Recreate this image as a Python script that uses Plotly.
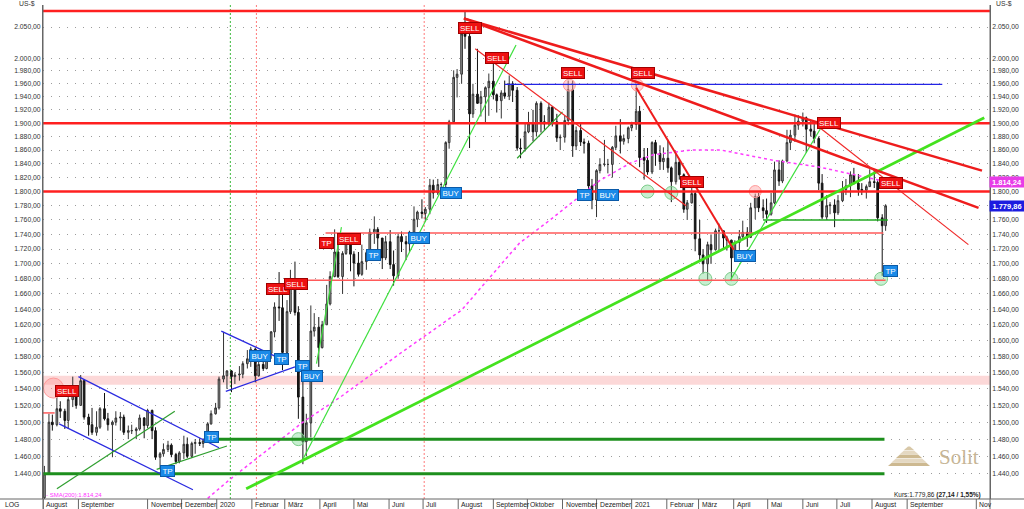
import numpy as np
import pandas as pd
import plotly.graph_objects as go

# ---------------- data ----------------
first_open = 1413
closes = [1440,1500,1497,1516,1513,1502,1527,1541,1520,1550,
          1506,1497,1488,1494,1516,1504,1497,1500,1505,1506,
          1488,1490,1490,1492,1505,1496,1514,1490,1459,1463,
          1468,1473,1462,1454,1464,1474,1460,1475,1476,1475,
          1478,1498,1510,1517,1552,1556,1562,1555,1557,1558,
          1571,1577,1589,1556,1570,1565,1584,1611,1643,1642,
          1585,1637,1673,1636,1530,1477,1499,1612,1617,1591,
          1620,1647,1683,1716,1683,1714,1729,1713,1701,1686,
          1703,1715,1743,1747,1735,1708,1730,1699,1684,1737,
          1730,1727,1743,1761,1771,1769,1775,1809,1798,1810,
          1810,1871,1902,1970,1975,2039,2035,1914,1944,1930,
          1940,1954,1964,1943,1934,1946,1941,1960,1950,1863,
          1862,1887,1899,1887,1930,1902,1899,1924,1902,1878,
          1879,1904,1951,1866,1889,1872,1870,1808,1788,1830,
          1839,1839,1839,1864,1881,1873,1877,1893,1898,1918,
          1849,1845,1828,1871,1855,1843,1848,1834,1814,1842,
          1824,1775,1784,1797,1734,1712,1700,1726,1719,1745,
          1745,1735,1732,1708,1729,1737,1743,1736,1777,1793,
          1777,1773,1768,1784,1831,1815,1844,1871,1882,1897,
          1903,1908,1891,1888,1877,1812,1764,1780,1781,1770,
          1787,1803,1808,1824,1812,1803,1802,1807,1814,1813,
          1763,1752,1779.86]
highs = [1449,1510,1509,1535,1525,1516,1530,1555,1541,1557,
         1552,1510,1517,1513,1518,1535,1511,1502,1513,1512,
         1509,1496,1497,1494,1509,1506,1516,1515,1494,1465,
         1475,1478,1475,1464,1466,1484,1482,1477,1480,1481,
         1481,1500,1514,1523,1555,1611,1563,1563,1560,1568,
         1574,1588,1592,1591,1574,1576,1585,1612,1649,1689,
         1660,1652,1692,1703,1644,1575,1510,1645,1635,1630,
         1625,1672,1690,1747,1731,1717,1739,1733,1717,1716,
         1726,1718,1748,1765,1750,1735,1738,1746,1718,1741,
         1744,1738,1745,1779,1773,1789,1778,1818,1817,1818,
         1813,1873,1905,1981,1983,2055,2075,2049,1960,2015,
         1949,1956,1976,1992,1945,1950,1965,1973,1964,1955,
         1877,1901,1917,1920,1933,1933,1912,1931,1926,1914,
         1883,1911,1965,1965,1895,1900,1877,1874,1818,1832,
         1848,1875,1847,1866,1896,1906,1883,1895,1902,1959,
         1926,1863,1863,1873,1875,1867,1864,1875,1836,1855,
         1846,1826,1788,1816,1800,1760,1720,1730,1740,1748,
         1755,1745,1738,1733,1732,1746,1759,1750,1784,1797,
         1798,1789,1790,1798,1843,1845,1846,1890,1890,1913,
         1912,1916,1910,1903,1903,1880,1825,1795,1785,1789,
         1795,1815,1818,1829,1834,1825,1812,1810,1832,1832,
         1816,1768,1782]
lows = [1400,1440,1490,1495,1505,1492,1492,1518,1516,1520,
        1503,1484,1485,1484,1492,1502,1490,1459,1496,1490,
        1485,1480,1486,1480,1490,1481,1493,1480,1456,1445,
        1460,1465,1459,1451,1452,1457,1458,1458,1463,1472,
        1470,1477,1497,1509,1515,1548,1540,1536,1546,1550,
        1553,1565,1567,1548,1555,1562,1564,1577,1604,1625,
        1563,1575,1634,1632,1504,1451,1460,1482,1605,1567,
        1590,1620,1645,1682,1681,1660,1712,1690,1670,1683,
        1684,1692,1712,1727,1718,1693,1705,1693,1671,1680,
        1716,1705,1716,1742,1750,1762,1758,1768,1790,1795,
        1795,1806,1862,1900,1939,1960,2015,1863,1908,1929,
        1910,1900,1911,1936,1916,1907,1937,1935,1932,1859,
        1848,1858,1885,1873,1880,1886,1890,1896,1895,1872,
        1860,1871,1897,1850,1860,1866,1855,1800,1775,1764,
        1826,1836,1826,1820,1860,1855,1868,1870,1888,1890,
        1835,1817,1824,1825,1837,1831,1831,1827,1785,1810,
        1817,1770,1760,1783,1717,1705,1687,1677,1700,1718,
        1718,1721,1718,1677,1706,1719,1732,1723,1735,1761,
        1771,1762,1756,1766,1782,1808,1812,1842,1860,1872,
        1890,1895,1856,1880,1870,1802,1761,1760,1768,1750,
        1767,1785,1795,1792,1810,1794,1795,1790,1807,1805,
        1758,1684,1745]

# one candle per half week (Mon-Wed shown on Tuesday, Thu-Fri shown on Friday)
candle_dates = [d for d in pd.date_range("2019-08-02", "2021-08-13", freq="D") if d.weekday() in (1, 4)]
opens = [first_open] + closes[:-1]

sma_dates = ["2019-12-20","2020-01-12","2020-03-17","2020-04-19","2020-06-11","2020-08-04",
             "2020-09-24","2020-10-21","2020-12-04","2020-12-31","2021-01-20","2021-02-22",
             "2021-03-21","2021-05-06","2021-06-16","2021-08-02","2021-08-13"]
sma_vals = [1408,1433,1500,1530,1584,1639,1728,1760,1816,1841,1853,1860,1860,1845,1835,1819,1814.24]

y_tick_vals = [1440,1460,1480,1500,1520,1540,1560,1580,1600,1620,1640,1660,1680,1700,1720,
               1740,1760,1780,1800,1820,1840,1860,1880,1900,1920,1940,1960,1980,2000,2050]

month_ticks = ["2019-08-01","2019-09-01","2019-11-01","2019-12-01","2020-01-01","2020-02-01",
               "2020-03-01","2020-04-01","2020-05-01","2020-06-01","2020-07-01","2020-08-01",
               "2020-09-01","2020-10-01","2020-11-01","2020-12-01","2021-01-01","2021-02-01",
               "2021-03-01","2021-04-01","2021-05-01","2021-06-01","2021-07-01","2021-08-01",
               "2021-09-01","2021-11-01"]
month_labels = ["August","September","November","Dezember","2020","Februar","März","April","Mai",
                "Juni","Juli","August","September","Oktober","November","Dezember","2021","Februar",
                "März","April","Mai","Juni","Juli","August","September","Nov"]

# drawn analysis objects (date, price)
red_thick_lines = [("2020-08-06", 2064, "2021-11-06", 1830),
                   ("2020-08-06", 2064, "2021-11-03", 1777)]
red_mid_lines = [("2021-01-05", 1954, "2021-04-01", 1719)]
red_thin_lines = [("2020-08-16", 2015, "2021-02-18", 1780),
                  ("2021-06-16", 1893, "2021-10-25", 1726)]
red_levels_full = [2076, 1900, 1800]
red_levels_part = [(1742, "2020-04-06", "2021-08-11"),
                   (1678, "2020-03-06", "2021-08-13"),
                   (1511, "2019-07-31 18:00", "2019-08-11")]
green_levels_thick = [(1480, "2019-12-28", "2021-08-12"),
                      (1440, "2019-07-31 18:00", "2021-08-12")]
green_levels_thin = [(1760, "2021-04-27", "2021-08-15")]
bright_green_thick = [("2020-01-27", 1423, "2021-11-08", 1908)]
bright_green_thin = [("2020-03-16", 1454, "2020-09-21", 2021),
                     ("2020-03-29", 1571, "2020-04-20", 1750),
                     ("2021-03-29", 1678, "2021-06-17", 1893)]
dark_green_thin = [("2019-08-13", 1423, "2019-11-25", 1513),
                   ("2019-11-09", 1445, "2020-01-10", 1472),
                   ("2020-09-22", 1848, "2020-11-01", 1917)]
blue_lines = [("2019-09-01", 1555, "2020-01-03", 1470),
              ("2019-08-15", 1498, "2019-12-11", 1422),
              ("2020-01-05", 1612, "2020-02-25", 1578),
              ("2020-01-09", 1537, "2020-03-10", 1567)]
blue_levels = [(1959, "2020-09-11", "2021-10-02")]
pink_band = (1545, 1556)
vlines_green = ["2020-01-13"]
vlines_red = ["2020-02-05", "2020-07-02"]
red_circle_big = [("2019-08-10", 1541)]
red_circles = [("2020-11-07", 1958), ("2021-01-06", 1958), ("2021-04-20", 1800)]
green_circles = [("2020-03-13", 1480), ("2021-01-15", 1800), ("2021-02-05", 1798),
                 ("2021-03-07", 1680), ("2021-03-30", 1680), ("2021-08-09", 1680)]

sell_labels = [("2019-08-22", 1537.5), ("2020-02-24", 1666.6), ("2020-03-11", 1673.2),
               ("2020-04-27", 1733.8), ("2020-08-11", 2048.4), ("2020-09-04", 2000.4),
               ("2020-11-10", 1976.8), ("2021-01-11", 1976.8), ("2021-02-23", 1813.7),
               ("2021-06-24", 1900.2), ("2021-08-18", 1812.2)]
tp_red_labels = [("2020-04-07", 1728.3)]
tp_labels = [("2019-11-19", 1443.4), ("2019-12-27", 1482.7), ("2020-02-27", 1576.9),
             ("2020-03-17", 1568.2), ("2020-05-18", 1712.0), ("2020-11-20", 1795.1),
             ("2021-08-17", 1690.5)]
buy_labels = [("2020-02-08", 1580.6), ("2020-03-25", 1555.9), ("2020-06-27", 1735.2),
              ("2020-07-26", 1798.0), ("2020-12-11", 1795.1), ("2021-04-11", 1710.7)]

sma_last = 1814.24
last_close = 1779.86
change_abs = 27.14
change_pct = 1.55

# ---------------- helpers ----------------
def de(v, dec=2):
    s = f"{v:,.{dec}f}"
    return s.replace(",", "X").replace(".", ",").replace("X", ".")

X_RANGE = ["2019-07-31 18:00", "2021-11-13 02:00"]
Y_MIN, Y_MAX = 1411.6, 2086.0
PW, PH = 947.0, 494.0   # plot area size in px
ML, MT = 43, 5

def px(xp):  # pixel x -> paper
    return (xp - ML) / PW

def py(yp):  # pixel y -> paper
    return (MT + PH - yp) / PH

FONT = "Liberation Sans, Arial, sans-serif"
TICK_FS = 6.8
shapes = []
annots = []

def seg(x0, y0, x1, y1, color, width, dash="solid", xref="x"):
    shapes.append(dict(type="line", xref=xref, yref="y", x0=x0, y0=y0, x1=x1, y1=y1,
                       line=dict(color=color, width=width, dash=dash), layer="above"))

# pink band
shapes.append(dict(type="rect", xref="paper", yref="y", x0=0, x1=1, y0=pink_band[0], y1=pink_band[1],
                   fillcolor="rgba(250,190,190,0.6)", line=dict(width=0), layer="below"))
# vertical dotted lines
for d in vlines_green:
    shapes.append(dict(type="line", xref="x", yref="paper", x0=d, x1=d, y0=0, y1=1,
                       line=dict(color="#3cb83c", width=1, dash="2px,2px"), layer="below"))
for d in vlines_red:
    shapes.append(dict(type="line", xref="x", yref="paper", x0=d, x1=d, y0=0, y1=1,
                       line=dict(color="#ff7a7a", width=1, dash="2px,2px"), layer="below"))

for lv in red_levels_full:
    seg(0, lv, 1, lv, "#ff2020", 2.5, xref="paper")
for lv, a, b in red_levels_part:
    seg(a, lv, b, lv, "#ff5a5a", 1.5)
for lv, a, b in green_levels_thick:
    seg(a, lv, b, lv, "#1d8f1d", 3)
for lv, a, b in green_levels_thin:
    seg(a, lv, b, lv, "#22a822", 1.5)
for lv, a, b in blue_levels:
    seg(a, lv, b, lv, "#2424e6", 1.3)
for a, p, b, q in blue_lines:
    seg(a, p, b, q, "#2a2ae0", 1.3)
for a, p, b, q in dark_green_thin:
    seg(a, p, b, q, "#2f9f2f", 1.2)
for a, p, b, q in bright_green_thin:
    seg(a, p, b, q, "#3ee03e", 1.2)
for a, p, b, q in bright_green_thick:
    seg(a, p, b, q, "#44e21e", 2.8)
for a, p, b, q in red_thick_lines:
    seg(a, p, b, q, "#ee1c1c", 2.5)
for a, p, b, q in red_mid_lines:
    seg(a, p, b, q, "#ee1c1c", 2)
for a, p, b, q in red_thin_lines:
    seg(a, p, b, q, "#f02828", 1.2)

# frame / bottom strip
shapes.append(dict(type="line", xref="paper", yref="paper", x0=px(0), x1=px(1024), y0=0, y1=0,
                   line=dict(color="#666", width=1)))
for xx in (0, 1):
    shapes.append(dict(type="line", xref="paper", yref="paper", x0=xx, x1=xx, y0=py(509), y1=1,
                       line=dict(color="#666", width=1)))
for d, lab in zip(month_ticks, month_labels):
    shapes.append(dict(type="line", xref="x", yref="paper", x0=d, x1=d, y0=py(509), y1=0,
                       line=dict(color="#666", width=1)))
    annots.append(dict(xref="x", yref="paper", x=d, y=py(504.5), text=lab, showarrow=False,
                       xanchor="left", yanchor="middle", xshift=1,
                       font=dict(family=FONT, size=TICK_FS, color="#222")))

annots.append(dict(xref="paper", yref="paper", x=px(12), y=py(504.5), text="LOG", showarrow=False,
                   xanchor="center", yanchor="middle", font=dict(family=FONT, size=TICK_FS, color="#222")))
annots.append(dict(xref="paper", yref="paper", x=px(37), y=py(3), text="US-$", showarrow=False,
                   xanchor="right", yanchor="middle", font=dict(family=FONT, size=TICK_FS, color="#333")))
annots.append(dict(xref="paper", yref="paper", x=px(994), y=py(3), text="US-$", showarrow=False,
                   xanchor="left", yanchor="middle", font=dict(family=FONT, size=TICK_FS, color="#333")))
annots.append(dict(xref="paper", yref="paper", x=px(44), y=py(494.5),
                   text="- SMA(200):" + de(sma_last), showarrow=False,
                   xanchor="left", yanchor="middle", font=dict(family=FONT, size=6, color="#ff33ff")))
annots.append(dict(xref="paper", yref="paper", x=px(983), y=py(494.5),
                   text="Kurs:" + de(last_close) + " <b>(" + de(change_abs) + " / " + de(change_pct) + "%)</b>",
                   showarrow=False, xanchor="right", yanchor="middle",
                   font=dict(family=FONT, size=6.5, color="#222")))

# right-side value boxes
annots.append(dict(xref="paper", yref="y", x=1, y=np.log10(sma_last), text="<b>" + de(sma_last) + "</b>",
                   showarrow=False, xanchor="left", yanchor="middle", xshift=-1, width=34, height=10,
                   bgcolor="#e83ce8", borderpad=0, font=dict(family=FONT, size=7.5, color="white")))
annots.append(dict(xref="paper", yref="y", x=1, y=np.log10(last_close), text="<b>" + de(last_close) + "</b>",
                   showarrow=False, xanchor="left", yanchor="middle", xshift=-1, width=34, height=10,
                   bgcolor="#1c1ce0", borderpad=0, font=dict(family=FONT, size=7.5, color="white")))

def box(d, p, text, bg, edge, w):
    annots.append(dict(xref="x", yref="y", x=d, y=np.log10(p), text=text, showarrow=False,
                       xanchor="center", yanchor="middle", width=w, height=10,
                       bgcolor=bg, bordercolor=edge, borderwidth=1, borderpad=0,
                       font=dict(family=FONT, size=8, color="white")))

for d, p in sell_labels:
    box(d, p, "SELL", "#ee1111", "#a00000", 22)
for d, p in tp_red_labels:
    box(d, p, "TP", "#ee1111", "#a00000", 13)
for d, p in tp_labels:
    box(d, p, "TP", "#1a8ae8", "#0a5aa8", 13)
for d, p in buy_labels:
    box(d, p, "BUY", "#1a8ae8", "#0a5aa8", 20)

# Solit logo
cx = 909
layer_cols = ["#cdb991", "#e4d8c2", "#cdb991", "#e4d8c2", "#d8c8a8"]
for i in range(5):
    yb = 466 - 4 * i
    yt = yb - 3.5
    hb = 21 - 4 * i
    ht = hb - 4
    path = (f"M {px(cx - hb)},{py(yb)} L {px(cx + hb)},{py(yb)} "
            f"L {px(cx + ht)},{py(yt)} L {px(cx - ht)},{py(yt)} Z")
    shapes.append(dict(type="path", xref="paper", yref="paper", path=path,
                       fillcolor=layer_cols[i], line=dict(width=0), layer="above"))
annots.append(dict(xref="paper", yref="paper", x=px(959), y=py(457), text="Solit", showarrow=False,
                   xanchor="center", yanchor="middle",
                   font=dict(family="Liberation Serif, Times New Roman, serif", size=21, color="#c6b596")))

# ---------------- figure ----------------
fig = go.Figure()
fig.add_trace(go.Candlestick(
    x=candle_dates, open=opens, high=highs, low=lows, close=closes,
    increasing=dict(line=dict(color="#333333", width=1), fillcolor="#9a9a9a"),
    decreasing=dict(line=dict(color="#111111", width=1), fillcolor="#1a1a1a"),
    whiskerwidth=0, hoverinfo="skip", showlegend=False))
fig.add_trace(go.Scatter(x=sma_dates, y=sma_vals, mode="lines",
                         line=dict(color="#ff3cff", width=1.5, dash="3px,3px"),
                         hoverinfo="skip", showlegend=False))
# highlight circles
for pts, fill, edge, size in ((red_circle_big, "rgba(255,160,160,0.45)", "#ff9a9a", 20),
                              (red_circles, "rgba(255,160,160,0.45)", "#ff9a9a", 12),
                              (green_circles, "rgba(130,220,150,0.45)", "#7ccc8a", 13)):
    fig.add_trace(go.Scatter(x=[d for d, _ in pts], y=[p for _, p in pts], mode="markers",
                             marker=dict(symbol="circle", size=size, color=fill,
                                         line=dict(color=edge, width=1)),
                             hoverinfo="skip", showlegend=False))
fig.add_trace(go.Scatter(x=[candle_dates[0], candle_dates[-1]], y=[closes[0], closes[-1]], yaxis="y2",
                         mode="markers", marker=dict(opacity=0), hoverinfo="skip", showlegend=False))

ytext = [de(v) for v in y_tick_vals]
yr = [np.log10(Y_MIN), np.log10(Y_MAX)]
fig.update_layout(
    width=1024, height=509,
    margin=dict(l=ML, r=1024 - ML - int(PW), t=MT, b=509 - MT - int(PH), pad=0),
    paper_bgcolor="white", plot_bgcolor="white", showlegend=False,
    boxgap=0.3,
    font=dict(family=FONT, size=TICK_FS, color="#333"),
    xaxis=dict(type="date", range=X_RANGE, showticklabels=False, showgrid=False, zeroline=False,
               showline=False, ticks="", rangeslider=dict(visible=False), fixedrange=True),
    yaxis=dict(type="log", range=yr, tickvals=y_tick_vals, ticktext=ytext, showgrid=True,
               gridcolor="#9c9c9c", griddash="1px,7px", gridwidth=1, zeroline=False,
               showline=True, linecolor="#666", linewidth=1, ticks="", side="left",
               tickfont=dict(family=FONT, size=TICK_FS, color="#333"), fixedrange=True),
    yaxis2=dict(type="log", range=yr, tickvals=y_tick_vals, ticktext=ytext, overlaying="y",
                side="right", showgrid=False, zeroline=False, showline=True, linecolor="#666",
                linewidth=1, ticks="", tickfont=dict(family=FONT, size=TICK_FS, color="#333"),
                fixedrange=True),
    shapes=shapes, annotations=annots,
)
fig.write_html("out.html", config={"displayModeBar": False},
               post_script="document.body.style.margin='0';document.body.style.padding='0';"
                           "document.body.style.overflow='hidden';")
